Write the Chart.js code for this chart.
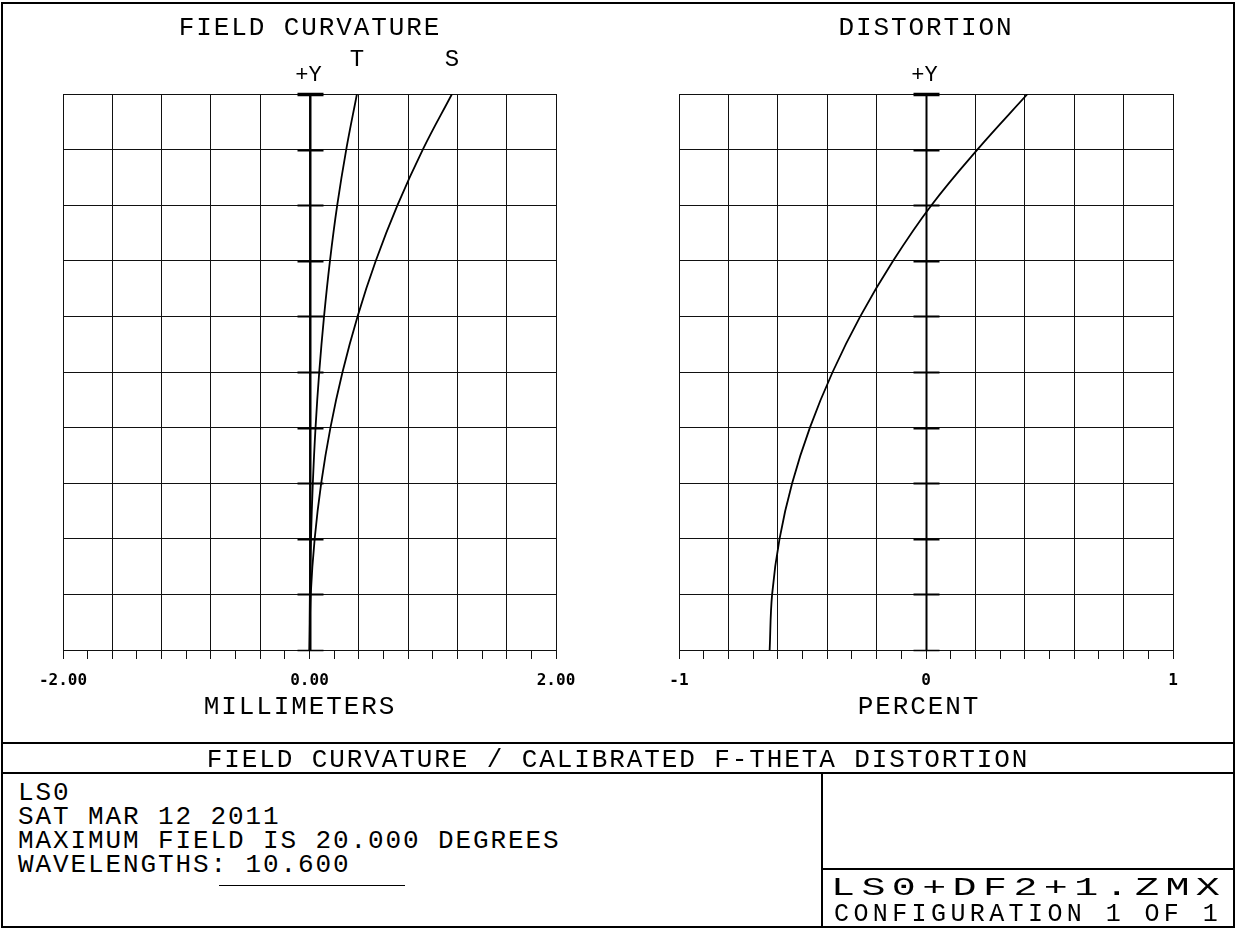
<!DOCTYPE html>
<html>
<head>
<meta charset="utf-8">
<title>Field Curvature / Calibrated F-Theta Distortion</title>
<script src="https://cdn.jsdelivr.net/npm/chart.js@4.4.1/dist/chart.umd.min.js"></script>
<style>
  body { margin: 0; background: #fff; }
  #page { position: relative; width: 1236px; height: 929px; overflow: hidden; background: #fff; }
  .ln { position: absolute; background: #000; z-index: 2; }
  .txt { position: absolute; font-family: "Liberation Mono", "DejaVu Sans Mono", monospace; font-size: 26px;
         line-height: 26px; letter-spacing: 1.9px; color: #000; white-space: pre; z-index: 2; }
  .c { text-align: center; }
  .wide { transform-origin: 0 0; }
  canvas { position: absolute; top: 0; z-index: 1; }
</style>
</head>
<body>
<div id="page">
  <canvas id="fieldCurv" width="618" height="740" style="left:0"></canvas>
  <canvas id="distort" width="618" height="740" style="left:618px"></canvas>

  <!-- frame -->
  <div class="ln" style="left:1px;top:2px;width:1234px;height:2px"></div>
  <div class="ln" style="left:1px;top:926px;width:1234px;height:2px"></div>
  <div class="ln" style="left:1px;top:2px;width:2px;height:926px"></div>
  <div class="ln" style="left:1233px;top:2px;width:2px;height:926px"></div>
  <div class="ln" style="left:1px;top:742px;width:1234px;height:2px"></div>
  <div class="ln" style="left:1px;top:772px;width:1234px;height:2px"></div>
  <div class="ln" style="left:821px;top:773px;width:2px;height:155px"></div>
  <div class="ln" style="left:821px;top:868px;width:414px;height:2px"></div>
  <div class="ln" style="left:219px;top:885px;width:186px;height:1px"></div>

  <!-- titles -->
  <div class="txt c" style="left:0;top:15px;width:620px">FIELD CURVATURE</div>
  <div class="txt c" style="left:618px;top:15px;width:616px">DISTORTION</div>
  <div class="txt c" style="left:0;top:694px;width:600px">MILLIMETERS</div>
  <div class="txt c" style="left:620px;top:694px;width:598px">PERCENT</div>
  <div class="txt c" style="left:0;top:747px;width:1236px">FIELD CURVATURE / CALIBRATED F-THETA DISTORTION</div>

  <div class="txt" style="left:18px;top:781px;line-height:24px">LS0
SAT MAR 12 2011
MAXIMUM FIELD IS 20.000 DEGREES
WAVELENGTHS: 10.600</div>

  <div class="txt wide" style="left:831px;top:876px;font-size:25px;line-height:25px;letter-spacing:4px;transform:scaleX(1.6)">LS0+DF2+1.ZMX</div>
  <div class="txt" style="left:834px;top:902px;font-size:25px;line-height:25px;letter-spacing:4.4px">CONFIGURATION 1 OF 1</div>
</div>

<script>
// relative field (0..1 of 20 deg)
const fieldY = [0, 0.1, 0.2, 0.3, 0.4, 0.5, 0.6, 0.7, 0.8, 0.9, 1.0];

// field curvature, millimeters
const tangential = [0, 0.003, 0.012, 0.027, 0.049, 0.079, 0.118, 0.166, 0.225, 0.298, 0.385];
const sagittal   = [0, 0.010, 0.042, 0.095, 0.170, 0.268, 0.390, 0.538, 0.714, 0.919, 1.156];

// calibrated f-theta distortion, percent
const distortion = [-0.633, -0.623, -0.593, -0.542, -0.470, -0.378, -0.266, -0.133, 0.022, 0.208, 0.411];

// tick labels shown under each plot
const fcTickLabels = [-2, 0, 2];
const distTickLabels = [-1, 0, 1];

const INK = '#111';

const toPoints = (xs) => fieldY.map((y, i) => ({ x: xs[i], y: y }));

// thick +Y axis with dashes and the small labels on top
const axisMarks = {
  id: 'axisMarks',
  afterDatasetsDraw(chart, args, opts) {
    const ctx = chart.ctx;
    const xs = chart.scales.x, ys = chart.scales.y;
    const x0 = Math.round(xs.getPixelForValue(0)) + 0.5;
    ctx.save();
    ctx.strokeStyle = '#000';
    ctx.lineWidth = 2;
    ctx.beginPath();
    ctx.moveTo(x0, ys.bottom);
    ctx.lineTo(x0, ys.top);
    ctx.stroke();
    const n = ys.ticks.length;
    ys.ticks.forEach((t, i) => {
      const y = Math.round(ys.getPixelForValue(t.value)) + 0.5;
      ctx.lineWidth = i === n - 1 ? 3.5 : (i === 0 ? 1.5 : 2);
      ctx.beginPath();
      ctx.moveTo(x0 - opts.dash, y);
      ctx.lineTo(x0 + opts.dash, y);
      ctx.stroke();
    });

    ctx.fillStyle = '#000';
    ctx.textAlign = 'center';
    ctx.textBaseline = 'alphabetic';
    ctx.font = '22px "Liberation Mono", monospace';
    ctx.fillText('+Y', x0 - 2, 81);
    if (opts.seriesLabels) {
      ctx.font = '24px "Liberation Mono", monospace';
      chart.data.datasets.forEach((ds) => {
        const top = ds.data[ds.data.length - 1];
        ctx.fillText(ds.label, xs.getPixelForValue(top.x), 66);
      });
    }
    ctx.restore();
  }
};

function makeOptions(min, max, step, labels, fmt, pad) {
  return {
    responsive: false,
    animation: false,
    layout: { padding: pad },
    plugins: {
      legend: { display: false },
      tooltip: { enabled: false },
      title: { display: false },
      axisMarks: { dash: 13, seriesLabels: labels === fcTickLabels }
    },
    scales: {
      x: {
        type: 'linear',
        min: min, max: max,
        afterFit: (s) => { s.height = 90; },
        border: { display: true, color: INK, width: 1 },
        grid: {
          color: (c) => (c.index % 2 === 0 ? INK : 'rgba(0,0,0,0)'),
          tickColor: INK,
          tickLength: 9,
          lineWidth: 1
        },
        ticks: {
          stepSize: step,
          autoSkip: false,
          maxRotation: 0,
          padding: 12,
          color: '#000',
          font: { family: '"DejaVu Sans Mono", monospace', size: 16, weight: 'bold' },
          callback: (v) => {
            const hit = labels.find((l) => Math.abs(l - v) < 1e-6);
            return hit === undefined ? '' : fmt(hit);
          }
        }
      },
      y: {
        type: 'linear',
        min: 0, max: 1,
        afterFit: (s) => { s.width = 0; },
        border: { display: false },
        grid: { color: INK, lineWidth: 1, drawTicks: false },
        ticks: { stepSize: 0.1, display: false }
      }
    }
  };
}

const lineStyle = { showLine: true, pointRadius: 0, borderColor: '#000', borderWidth: 1.8, tension: 0.4, fill: false };

new Chart(document.getElementById('fieldCurv'), {
  type: 'scatter',
  data: {
    datasets: [
      Object.assign({ label: 'T', data: toPoints(tangential) }, lineStyle),
      Object.assign({ label: 'S', data: toPoints(sagittal) }, lineStyle)
    ]
  },
  options: makeOptions(-2, 2, 0.2, fcTickLabels, (v) => v.toFixed(2),
    { left: 63, right: 62, top: 94, bottom: 0 }),
  plugins: [axisMarks]
});

new Chart(document.getElementById('distort'), {
  type: 'scatter',
  data: {
    datasets: [
      Object.assign({ label: 'DISTORTION', data: toPoints(distortion) }, lineStyle)
    ]
  },
  options: makeOptions(-1, 1, 0.1, distTickLabels, (v) => String(v),
    { left: 61, right: 63, top: 94, bottom: 0 }),
  plugins: [axisMarks]
});
</script>
</body>
</html>
